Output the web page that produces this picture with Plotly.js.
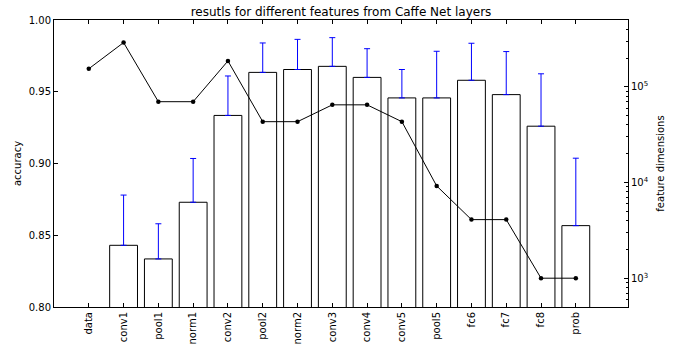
<!DOCTYPE html>
<html>
<head>
<meta charset="utf-8">
<script src="https://cdn.plot.ly/plotly-3.0.1.min.js"></script>
<style>html,body{margin:0;padding:0;background:#fff;}#chart{width:689px;height:345px;}</style>
</head>
<body>
<div id="chart"></div>
<script>
const layers = ["data","conv1","pool1","norm1","conv2","pool2","norm2","conv3","conv4","conv5","pool5","fc6","fc7","fc8","prob"];
const accuracy = [null,0.843,0.8335,0.873,0.9335,0.9635,0.9655,0.9677,0.960,0.9457,0.9457,0.958,0.948,0.926,0.8567];
const accuracyErrUp = [null,0.035,0.0245,0.0305,0.0275,0.0205,0.021,0.020,0.020,0.0198,0.0325,0.0258,0.030,0.0365,0.047];
const featureDims = [154587,290400,69984,69984,186624,43264,43264,64896,64896,43264,9216,4096,4096,1000,1000];

const font = "DejaVu Sans, sans-serif";
const traces = [
  {
    type: "bar", x: layers, y: accuracy, base: 0, width: 0.8,
    marker: {color: "#ffffff", line: {color: "#000000", width: 1}},
    error_y: {type: "data", symmetric: false, array: accuracyErrUp, arrayminus: accuracy.map(v => 0),
              color: "#0000ff", thickness: 1, width: 3},
    yaxis: "y", showlegend: false, hoverinfo: "skip"
  },
  {
    type: "scatter", mode: "lines+markers", x: layers, y: featureDims, yaxis: "y2",
    line: {color: "#000000", width: 1}, marker: {color: "#000000", size: 4.5},
    showlegend: false, hoverinfo: "skip"
  }
];
const layout = {
  width: 689, height: 345,
  margin: {l: 54, r: 61, t: 20, b: 38, pad: 0},
  paper_bgcolor: "#ffffff", plot_bgcolor: "#ffffff",
  font: {family: font, size: 10, color: "#000000"},
  title: {text: "resutls for different features from Caffe Net layers", font: {family: font, size: 12, color: "#000"},
          x: 0.4949, xanchor: "center", y: 0.965, yanchor: "middle"},
  bargap: 0.2,
  xaxis: {
    type: "category", range: [-1.0, 15.5], tickangle: -90,
    ticks: "inside", ticklen: 4, tickcolor: "#000", showline: true, linecolor: "#000", linewidth: 1,
    mirror: "ticks", showgrid: false, zeroline: false, tickfont: {family: font, size: 10}
  },
  yaxis: {
    range: [0.8, 1.0], tickvals: [0.80, 0.85, 0.90, 0.95, 1.00], ticktext: ["0.80","0.85","0.90","0.95","1.00"],
    ticks: "inside", ticklen: 4, tickcolor: "#000", showline: true, linecolor: "#000", linewidth: 1,
    mirror: false, showgrid: false, zeroline: false, tickfont: {family: font, size: 10},
    title: {text: "accuracy", font: {family: font, size: 10}, standoff: 5}
  },
  yaxis2: {
    type: "log", overlaying: "y", side: "right", range: [Math.log10(500), Math.log10(500000)],
    tickvals: [1000, 10000, 100000], ticktext: ["10<sup>3</sup>", "10<sup>4</sup>", "10<sup>5</sup>"],
    ticks: "inside", ticklen: 4, tickcolor: "#000", showline: true, linecolor: "#000", linewidth: 1,
    showgrid: false, zeroline: false, tickfont: {family: font, size: 10},
    minor: {ticks: "inside", ticklen: 2, tickcolor: "#000", dtick: "D1", showgrid: false},
    title: {text: "feature dimensions", font: {family: font, size: 10}, standoff: 9}
  }
};
Plotly.newPlot("chart", traces, layout, {staticPlot: true, displayModeBar: false});
</script>
</body>
</html>
